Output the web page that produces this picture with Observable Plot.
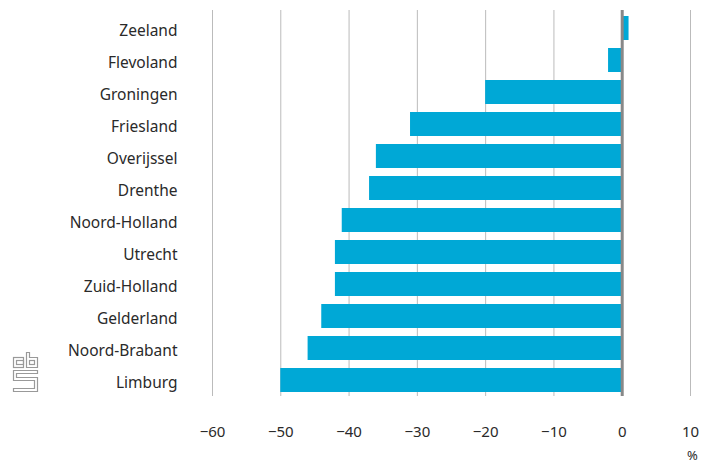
<!DOCTYPE html>
<html>
<head>
<meta charset="utf-8">
<script src="https://cdn.jsdelivr.net/npm/d3@7"></script>
<script src="https://cdn.jsdelivr.net/npm/@observablehq/plot@0.6"></script>
<style>
  html, body { margin: 0; padding: 0; background: #fff; }
  #wrap { position: relative; width: 701px; height: 462px; }
  #logo { position: absolute; left: 12px; top: 351px; }
</style>
</head>
<body>
<div id="wrap">
  <div id="chart"></div>
  <svg id="logo" width="30" height="44" viewBox="0 0 30 44">
    <g fill="none" stroke="#999" stroke-width="1.2">
      <rect x="1.5" y="6.5" width="10" height="10"/>
      <rect x="4.5" y="9.5" width="7" height="4"/>
      <path d="M14.5 1.5 h3 v5 h8 v10 h-11 z"/>
      <rect x="17.5" y="9.5" width="5" height="4"/>
      <path d="M1.5 19.5 h24 v3 h-21 v4 h21 v14 h-24 v-3 h21 v-8 h-21 z"/>
    </g>
  </svg>
</div>
<script>
const provinces = ["Zeeland", "Flevoland", "Groningen", "Friesland", "Overijssel", "Drenthe",
  "Noord-Holland", "Utrecht", "Zuid-Holland", "Gelderland", "Noord-Brabant", "Limburg"];
const values = [1, -2, -20, -31, -36, -37, -41, -42, -42, -44, -46, -50];
const xTicks = [-60, -50, -40, -30, -20, -10, 0, 10];
const unitLabel = "%";

const data = provinces.map((p, i) => ({province: p, value: values[i]}));

const fmt = d => d < 0 ? "\u2212" + Math.abs(d) : String(d);

const chart = Plot.plot({
  width: 701,
  height: 462,
  marginTop: 8,
  marginBottom: 62,
  marginLeft: 212,
  marginRight: 11,
  style: {fontFamily: "'Noto Sans', sans-serif", fontSize: "15.5px", color: "#2a2a2a", background: "#fff"},
  x: {domain: [-60, 10]},
  y: {domain: provinces, padding: 0.25},
  marks: [
    Plot.ruleX(xTicks, {stroke: "#bbb", strokeWidth: 1, insetTop: 2, insetBottom: 4}),
    Plot.barX(data, {x: "value", y: "province", fill: "#00a8d6"}),
    Plot.ruleX([0], {stroke: "#888", strokeWidth: 3, insetTop: 2, insetBottom: 4}),
    Plot.axisX(xTicks, {tickSize: 0, tickPadding: 26, tickFormat: fmt, label: null, fontSize: 15}),
    Plot.axisY({tickSize: 0, tickPadding: 35, label: null, fontSize: 15.5, dy: 3}),
    Plot.text([unitLabel], {x: () => 10, text: d => d, frameAnchor: "bottom", dy: 59, dx: 2, fontSize: 13, fill: "#2a2a2a"})
  ]
});
document.getElementById("chart").appendChild(chart);
</script>
</body>
</html>
